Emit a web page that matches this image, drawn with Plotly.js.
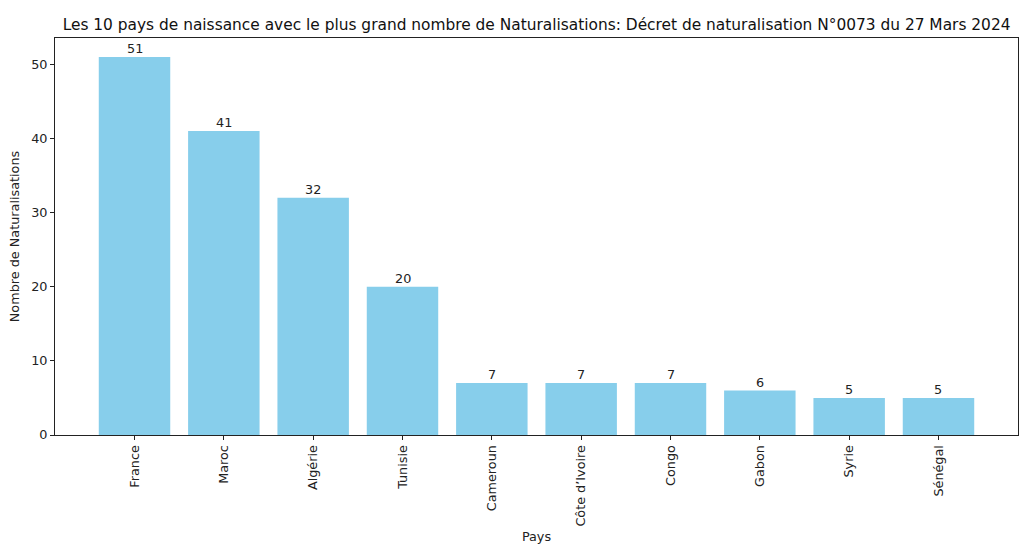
<!DOCTYPE html>
<html>
<head>
<meta charset="utf-8">
<script src="https://cdn.plot.ly/plotly-3.0.1.min.js"></script>
<style>html,body{margin:0;padding:0;background:#fff;}#chart{width:1024px;height:553px;}</style>
</head>
<body>
<div id="chart"></div>
<script>
const pays = ["France", "Maroc", "Algérie", "Tunisie", "Cameroun", "Côte d’Ivoire", "Congo", "Gabon", "Syrie", "Sénégal"];
const naturalisations = [51, 41, 32, 20, 7, 7, 7, 6, 5, 5];
const yTicks = [0, 10, 20, 30, 40, 50];

const font = "DejaVu Sans, sans-serif";
const idx = pays.map((_, i) => i);

const trace = {
  type: "bar",
  x: idx,
  y: naturalisations,
  width: 0.8,
  marker: {color: "#87CEEB", line: {width: 0}},
  hoverinfo: "x+y"
};

const annotations = idx.map(i => ({
  x: i, y: naturalisations[i], xref: "x", yref: "y",
  text: String(naturalisations[i]), showarrow: false,
  yanchor: "bottom", yshift: -1,
  font: {family: font, size: 12.8, color: "#222"}
}));

const layout = {
  width: 1024, height: 553,
  margin: {l: 55, r: 6, t: 38, b: 118},
  paper_bgcolor: "#fff", plot_bgcolor: "#fff",
  showlegend: false,
  font: {family: font, color: "#222"},
  title: {
    text: "Les 10 pays de naissance avec le plus grand nombre de Naturalisations: Décret de naturalisation N°0073 du 27 Mars 2024",
    font: {family: font, size: 15.4, color: "#111"},
    x: 0.524, xanchor: "center", y: 0.956, yanchor: "middle"
  },
  xaxis: {
    range: [-0.89, 9.89],
    tickmode: "array", tickvals: idx, ticktext: pays,
    tickangle: -90,
    ticks: "outside", ticklen: 4, tickwidth: 1, tickcolor: "#222",
    showline: true, linecolor: "#222", linewidth: 1, mirror: true,
    showgrid: false, zeroline: false,
    tickfont: {family: font, size: 12.8, color: "#222"},
    title: {text: "Pays", font: {family: font, size: 12.8, color: "#222"}, standoff: 6}
  },
  yaxis: {
    range: [0, 53.55],
    tickmode: "array", tickvals: yTicks,
    ticks: "outside", ticklen: 4, tickwidth: 1, tickcolor: "#222",
    showline: true, linecolor: "#222", linewidth: 1, mirror: true,
    showgrid: false, zeroline: false,
    tickfont: {family: font, size: 12.8, color: "#222"},
    title: {text: "Nombre de Naturalisations", font: {family: font, size: 12.8, color: "#222"}, standoff: 8}
  },
  annotations: annotations
};

Plotly.newPlot("chart", [trace], layout, {staticPlot: true, displayModeBar: false});
</script>
</body>
</html>
